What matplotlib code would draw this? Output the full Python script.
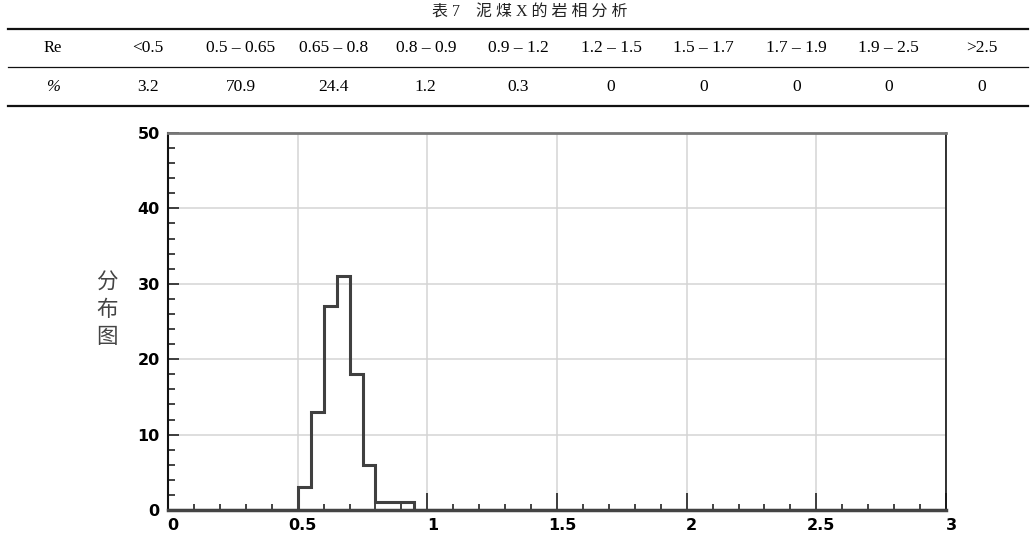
import matplotlib
matplotlib.use("Agg")
import matplotlib.pyplot as plt
from matplotlib.lines import Line2D
from matplotlib.ticker import MultipleLocator
import matplotlib.transforms as mtransforms

# table data
re_labels = ["<0.5", "0.5 – 0.65", "0.65 – 0.8", "0.8 – 0.9", "0.9 – 1.2",
             "1.2 – 1.5", "1.5 – 1.7", "1.7 – 1.9", "1.9 – 2.5", ">2.5"]
pct_values = ["3.2", "70.9", "24.4", "1.2", "0.3", "0", "0", "0", "0", "0"]
title = "表 7    泥 煤 X 的 岩 相 分 析"

# histogram data
edges = [0, 0.50, 0.55, 0.60, 0.65, 0.70, 0.75, 0.80, 0.85, 0.90, 0.95, 3]
counts = [0, 3, 13, 27, 31, 18, 6, 1, 1, 1, 0]

W, H = 1036, 540
fig = plt.figure(figsize=(W / 100, H / 100), dpi=100)

serif = ["Liberation Serif", "Noto Sans CJK SC"]

def fx(px):
    return px / W

def fy(py):
    return 1 - py / H

# ---- table ----
fig.text(fx(530), fy(13), title, family=serif, fontsize=11.5,
         ha="center", va="center", color="#222222")
for y, lw in [(29, 1.6), (67, 0.9), (106, 1.6)]:
    fig.add_artist(Line2D([fx(8), fx(1028)], [fy(y), fy(y)],
                          color="#111111", lw=lw))

col_x = [148 + 92.6 * i for i in range(len(re_labels))]
fig.text(fx(53), fy(48), "Re", family=serif, fontsize=12, ha="center", va="center")
fig.text(fx(53), fy(87), "%", family=serif, fontsize=12, ha="center", va="center",
         style="italic")
for x, lab, val in zip(col_x, re_labels, pct_values):
    fig.text(fx(x), fy(48), lab, family=serif, fontsize=12.5, ha="center", va="center")
    fig.text(fx(x), fy(87), val, family=serif, fontsize=12.5, ha="center", va="center")

# ---- chart ----
ax = fig.add_axes([fx(168), fy(510), fx(946) - fx(168), fy(133) - fy(510)])
ax.stairs(counts, edges, color="#404040", lw=2.2, zorder=3)
ax.set_xlim(0, 3)
ax.set_ylim(0, 50)

ax.xaxis.set_major_locator(MultipleLocator(0.5))
ax.xaxis.set_minor_locator(MultipleLocator(0.1))
ax.yaxis.set_major_locator(MultipleLocator(10))
ax.yaxis.set_minor_locator(MultipleLocator(2))
ax.set_xticks([0, 0.5, 1, 1.5, 2, 2.5, 3])
ax.set_xticklabels(["0", "0.5", "1", "1.5", "2", "2.5", "3"])

ax.grid(True, which="major", color="#d4d4d4", lw=1.1, zorder=0)
ax.tick_params(axis="x", which="major", direction="in", length=12, width=1.2,
               color="#222222", pad=6)
ax.tick_params(axis="x", which="minor", direction="in", length=4, width=1.2,
               color="#222222")
ax.tick_params(axis="y", which="major", direction="in", length=8, width=1.2,
               color="#222222", pad=6)
ax.tick_params(axis="y", which="minor", direction="in", length=5, width=1.2,
               color="#222222")

tickfont = ["Liberation Sans Narrow", "DejaVu Sans"]
for lab in ax.get_xticklabels() + ax.get_yticklabels():
    lab.set_family(tickfont)
    lab.set_fontweight("bold")
    lab.set_fontsize(11.5)
# shift x labels slightly right like the original
offset = mtransforms.ScaledTranslation(5 / 100, 0, fig.dpi_scale_trans)
for lab in ax.get_xticklabels():
    lab.set_transform(lab.get_transform() + offset)

ax.spines["left"].set_color("#111111")
ax.spines["left"].set_linewidth(1.5)
ax.spines["top"].set_color("#777777")
ax.spines["top"].set_linewidth(2)
ax.spines["right"].set_color("#111111")
ax.spines["right"].set_linewidth(1.2)
ax.spines["bottom"].set_color("#444444")
ax.spines["bottom"].set_linewidth(2.5)

fig.text(fx(107), fy(310), "分\n布\n图", family=["Noto Sans CJK SC", "DejaVu Sans"],
         fontsize=15.5, ha="center", va="center", color="#444444", linespacing=1.3)

fig.savefig("out.png", dpi=100)
